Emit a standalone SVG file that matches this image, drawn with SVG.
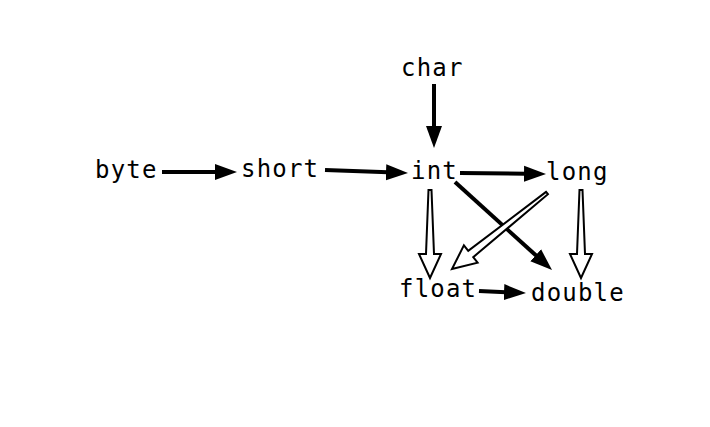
<svg xmlns="http://www.w3.org/2000/svg" width="710" height="427" viewBox="0 0 710 427">
<style>
text{font-family:"DejaVu Sans Mono","Liberation Mono",monospace;font-size:24px;letter-spacing:1.2px;fill:#000}
.s{stroke:#000;stroke-width:4;fill:none}
.h{fill:#fff;stroke:#000;stroke-width:2;stroke-linejoin:miter}
</style>
<defs>
<marker id="a" viewBox="0 0 24 18" markerWidth="24" markerHeight="18" markerUnits="userSpaceOnUse" refX="2" refY="9" orient="auto">
<path d="M0,1 L22,9 L0,17 z" fill="#000"/>
</marker>
</defs>
<rect width="710" height="427" fill="#fff"/>
<g id="byte"><text x="95" y="178">byte</text></g>
<g id="short"><text x="241" y="177">short</text></g>
<g id="int"><text x="411" y="179">int</text></g>
<g id="long"><text x="546" y="180">long</text></g>
<g id="char"><text x="401" y="76">char</text></g>
<g id="float"><text x="399" y="297">float</text></g>
<g id="double"><text x="531" y="301">double</text></g>
<g id="connectors">
<line class="s" x1="162" y1="172" x2="217" y2="172" marker-end="url(#a)"/>
<line class="s" x1="325" y1="170" x2="388" y2="172.3" marker-end="url(#a)"/>
<line class="s" x1="434" y1="84" x2="434" y2="128" marker-end="url(#a)"/>
<line class="s" x1="460" y1="173" x2="526" y2="173.8" marker-end="url(#a)"/>
<line class="s" x1="455" y1="182" x2="537.2" y2="256.6" marker-end="url(#a)"/>
<line class="s" x1="479" y1="291" x2="506" y2="292.2" marker-end="url(#a)"/>
<polygon class="h" points="431.5,190 434,254 441,254 430,278 419,254 426,254 428.5,190"/>
<polygon class="h" points="582.5,190 585,254 592,254 581,278 570,254 577,254 579.5,190"/>
<polygon class="h" points="546.06,191.83 468.24,250.88 463.9,245.4 452,269 477.6,262.6 473.24,257.12 547.94,194.17"/>
</g>
</svg>
